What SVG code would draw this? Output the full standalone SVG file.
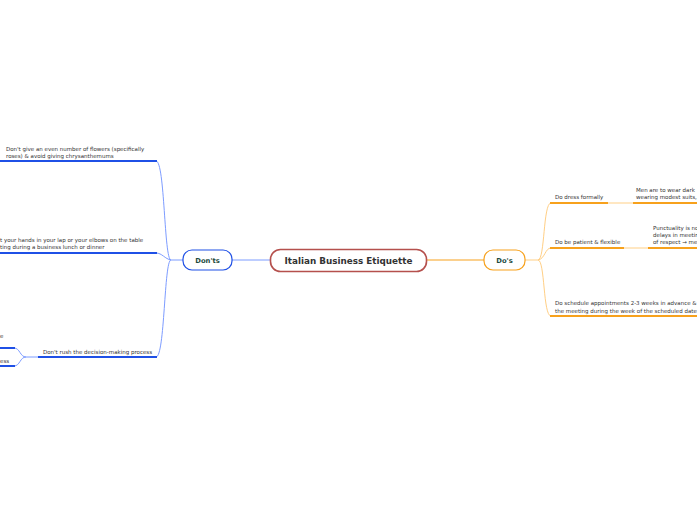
<svg xmlns="http://www.w3.org/2000/svg" width="697" height="520" viewBox="0 0 697 520">
<style>
.t{font-family:"DejaVu Sans",Verdana,sans-serif;font-size:5.5px;fill:#333}
.b{font-family:"DejaVu Sans",Verdana,sans-serif;font-weight:bold;fill:#333}
.cb{fill:none;stroke:#7d9cff;stroke-width:1}
.ub{fill:none;stroke:#1f50e6;stroke-width:2}
.co{fill:none;stroke:#ffcf85;stroke-width:1}
.uo{fill:none;stroke:#f7a11c;stroke-width:2}
</style>
<rect width="697" height="520" fill="#fff"/>
<g id="connectors">
<path class="cb" d="M270,260 H232"/>
<path class="co" d="M427,260 H484" style="stroke:#f7a11c"/>
<path class="cb" d="M183,260 H171 C164,260 165,161 156,161"/>
<path class="cb" d="M171,260 C165,259 162,253 156,253"/>
<path class="cb" d="M171,260 C164,260 165,357 156,357"/>
<path class="cb" d="M38,357 H26 C20,357 20,348 14,348"/>
<path class="cb" d="M26,357 C20,357 20,366 14,366"/>
<path class="co" d="M525,260 H538 C545,260 543,203 551,203"/>
<path class="co" d="M538,260 C545,259 545,248 551,248"/>
<path class="co" d="M538,260 C545,260 543,316 551,316"/>
<path class="co" d="M608,203 H633"/>
<path class="co" d="M624,248 H648"/>
</g>
<g id="central">
<rect x="270.5" y="249.5" width="156" height="22" rx="10" fill="#fff" stroke="#b5504d" stroke-width="1.6"/>
<text class="b" x="348.5" y="264" font-size="8.8" text-anchor="middle">Italian Business Etiquette</text>
</g>
<g id="donts">
<rect x="183" y="250" width="49" height="20" rx="9" fill="#fff" stroke="#1f50e6" stroke-width="1.2"/>
<text class="b" x="207.5" y="263" font-size="6.8" text-anchor="middle" style="fill:#1d4a3c">Don'ts</text>
</g>
<g id="dos">
<rect x="484" y="250" width="41" height="20" rx="9" fill="#fff" stroke="#f7a11c" stroke-width="1.2"/>
<text class="b" x="504.5" y="263" font-size="6.8" text-anchor="middle" style="fill:#1d4a3c">Do's</text>
</g>
<g id="dont-flowers">
<path class="ub" d="M0,161 H157"/>
<text class="t" x="6" y="150.5">Don't give an even number of flowers (specifically</text>
<text class="t" x="6" y="157.5">roses) &amp; avoid giving chrysanthemums</text>
</g>
<g id="dont-hands">
<path class="ub" d="M0,253 H157"/>
<text class="t" x="0" y="241.5">t your hands in your lap or your elbows on the table</text>
<text class="t" x="0" y="248.5">ting during a business lunch or dinner</text>
</g>
<g id="dont-rush">
<path class="ub" d="M38,357 H157"/>
<text class="t" x="43" y="353.5">Don't rush the decision-making process</text>
</g>
<g id="dont-rush-1">
<path class="ub" d="M0,348 H15"/>
<text class="t" x="0" y="337.5">e</text>
</g>
<g id="dont-rush-2">
<path class="ub" d="M0,366 H15"/>
<text class="t" x="0" y="362.5">ess</text>
</g>
<g id="do-dress">
<path class="uo" d="M550,203 H608"/>
<text class="t" x="555" y="199">Do dress formally</text>
</g>
<g id="do-dress-1">
<path class="uo" d="M633,203 H697"/>
<text class="t" x="636" y="192">Men are to wear dark</text>
<text class="t" x="636" y="199">wearing modest suits,</text>
</g>
<g id="do-patient">
<path class="uo" d="M550,248 H624"/>
<text class="t" x="555" y="244">Do be patient &amp; flexible</text>
</g>
<g id="do-patient-1">
<path class="uo" d="M648,248 H697"/>
<text class="t" x="653" y="230">Punctuality is no</text>
<text class="t" x="653" y="237">delays in meetir</text>
<text class="t" x="653" y="244">of respect → me</text>
</g>
<g id="do-schedule">
<path class="uo" d="M550,316 H697"/>
<text class="t" x="555" y="305">Do schedule appointments 2-3 weeks in advance &amp;</text>
<text class="t" x="555" y="312.5">the meeting during the week of the scheduled date</text>
</g>
</svg>
